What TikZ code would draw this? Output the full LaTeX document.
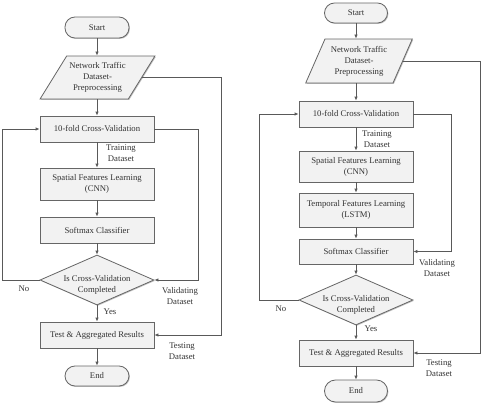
\documentclass[tikz,border=0pt]{standalone}
\usepackage{fontspec}
\setmainfont{Liberation Serif}
\usetikzlibrary{arrows.meta,shapes.geometric,shadows}
\begin{document}
\begin{tikzpicture}[x=1pt,y=-1pt,
  font=\fontsize{8.7}{11}\selectfont,
  every node/.style={text=black!80},
  shad/.style={drop shadow={shadow xshift=0.9pt,shadow yshift=-0.9pt,fill=black!35,opacity=0.7}},
  boxsty/.style={draw=black!60,fill=black!5,line width=0.8pt,minimum width=114pt,minimum height=26pt,inner sep=1pt,align=center,shad},
  termsty/.style={boxsty,minimum width=64pt,minimum height=21pt,rounded corners=10pt},
  parasty/.style={boxsty,trapezium,trapezium stretches=true,inner sep=0pt},
  diasty/.style={draw=black!60,fill=black!5,line width=0.8pt,diamond,minimum width=114pt,minimum height=50pt,inner sep=0pt,shad},
  txt/.style={align=center,inner sep=0pt},
  lbl/.style={align=center,inner sep=0pt},
  conn/.style={draw=black!65,line width=0.8pt,-{Latex[length=4pt,width=3.5pt]}},
  line/.style={draw=black!65,line width=0.8pt}
]
\useasboundingbox (0,0) rectangle (483,415);
\fill[white] (0,0) rectangle (483,415);

% ---------------- left flowchart ----------------
\coordinate (xr1) at (221,0);
\coordinate (xv1) at (198,0);
\coordinate (xl1) at (2,0);

\node[termsty] (s1) at (97,27.5) {Start};
\node[parasty,trapezium left angle=51,trapezium right angle=129,minimum width=115pt,minimum height=43pt] (p1) at (97.5,77.5) {Network Traffic\\Dataset-\\Preprocessing};
\node[boxsty] (b1) at (97,129) {10-fold Cross-Validation};
\node[boxsty,minimum height=32pt] (sp1) at (97,184) {Spatial Features Learning\\(CNN)};
\node[boxsty] (sm1) at (97,230) {Softmax Classifier};
\node[diasty] (d1) at (97,280) {};
\node[txt] (dt1) at (97,285) {Is Cross-Validation\\Completed};
\node[boxsty] (t1) at (97,335) {Test \& Aggregated Results};
\node[termsty,minimum height=20pt] (e1) at (97,376) {End};

\node[lbl] (tr1) at (121,153.5) {Training\\Dataset};
\node[lbl] (va1) at (180,296) {Validating\\Dataset};
\node[lbl] (te1) at (182,351.5) {Testing\\Dataset};
\node[lbl] (no1) at (24,289) {No};
\node[lbl] (ye1) at (110,312) {Yes};

\draw[conn] (s1.south) -- (s1.south |- p1.north);
\draw[conn] (b1.north |- p1.south) -- (b1.north);
\draw[conn] (b1.south) -- (sp1.north);
\draw[conn] (sp1.south) -- (sm1.north);
\draw[conn] (sm1.south) -- (d1.north);
\draw[conn] (d1.south) -- (t1.north);
\draw[conn] (t1.south) -- (e1.north);
\draw[conn] (p1.east) -| (xr1 |- t1.east) -- (t1.east);
\draw[conn] (b1.east) -| (xv1 |- d1.east) -- (d1.east);
\draw[conn] (d1.west) -- (d1.west -| xl1) |- (b1.west);

% ---------------- right flowchart ----------------
\coordinate (xr2) at (480,0);
\coordinate (xv2) at (451,0);
\coordinate (xl2) at (259,0);

\node[termsty,minimum width=63pt,minimum height=20pt] (s2) at (356,13) {Start};
\node[parasty,trapezium left angle=62,trapezium right angle=118,minimum width=107pt,minimum height=44pt] (p2) at (359,61) {Network Traffic\\Dataset-\\Preprocessing};
\node[boxsty] (b2) at (356,114) {10-fold Cross-Validation};
\node[boxsty,minimum height=31pt] (sp2) at (356,166.5) {Spatial Features Learning\\(CNN)};
\node[boxsty,minimum height=34pt] (tp2) at (356,210) {Temporal Features Learning\\(LSTM)};
\node[boxsty,minimum height=25pt] (sm2) at (356,251.5) {Softmax Classifier};
\node[diasty] (d2) at (356,300) {};
\node[txt] (dt2) at (356,305) {Is Cross-Validation\\Completed};
\node[boxsty] (t2) at (356,353) {Test \& Aggregated Results};
\node[termsty,minimum width=63pt,minimum height=22pt,rounded corners=11pt] (e2) at (356,391) {End};

\node[lbl] (tr2) at (377,139.5) {Training\\Dataset};
\node[lbl] (va2) at (437,268) {Validating\\Dataset};
\node[lbl] (te2) at (439,368) {Testing\\Dataset};
\node[lbl] (no2) at (281,309) {No};
\node[lbl] (ye2) at (371,329) {Yes};

\draw[conn] (s2.south) -- (s2.south |- p2.north);
\draw[conn] (b2.north |- p2.south) -- (b2.north);
\draw[conn] (b2.south) -- (sp2.north);
\draw[conn] (sp2.south) -- (tp2.north);
\draw[conn] (tp2.south) -- (sm2.north);
\draw[conn] (sm2.south) -- (d2.north);
\draw[conn] (d2.south) -- (t2.north);
\draw[conn] (t2.south) -- (e2.north);
\draw[conn] (p2.east) -| (xr2 |- t2.east) -- (t2.east);
\draw[conn] (b2.east) -| (xv2 |- sm2.east) -- (sm2.east);
\draw[conn] (d2.west) -- (d2.west -| xl2) |- (b2.west);
\end{tikzpicture}
\end{document}
